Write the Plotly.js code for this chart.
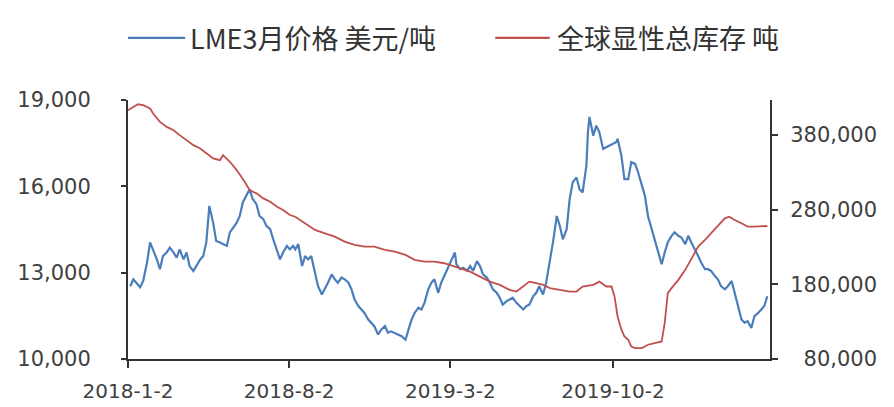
<!DOCTYPE html>
<html>
<head>
<meta charset="utf-8">
<script src="https://cdn.plot.ly/plotly-3.0.1.min.js"></script>
<style>
  html, body { margin: 0; padding: 0; background: #ffffff; }
  #chart { width: 894px; height: 407px; }
</style>
</head>
<body>
<div id="chart"></div>
<script>
// ---- Data ----
const seriesNames = ["LME3月价格 美元/吨", "全球显性总库存 吨"];

const priceDates = [
  "2018-01-05","2018-01-09","2018-01-13","2018-01-18","2018-01-22","2018-01-27","2018-01-31","2018-02-04","2018-02-09","2018-02-13",
  "2018-02-17","2018-02-22","2018-02-26","2018-03-03","2018-03-07","2018-03-11","2018-03-16","2018-03-20","2018-03-24","2018-03-29",
  "2018-04-02","2018-04-07","2018-04-11","2018-04-15","2018-04-19","2018-04-24","2018-04-28","2018-05-03","2018-05-12","2018-05-16",
  "2018-05-25","2018-05-29","2018-06-02","2018-06-07","2018-06-11","2018-06-15","2018-06-20","2018-06-24","2018-06-29","2018-07-03",
  "2018-07-08","2018-07-12","2018-07-17","2018-07-21","2018-07-25","2018-07-30","2018-08-03","2018-08-07","2018-08-10","2018-08-14",
  "2018-08-19","2018-08-23","2018-08-27","2018-08-31","2018-09-05","2018-09-09","2018-09-14","2018-09-18","2018-09-22","2018-09-27",
  "2018-10-01","2018-10-05","2018-10-10","2018-10-14","2018-10-19","2018-10-23","2018-10-27","2018-11-01","2018-11-05","2018-11-09",
  "2018-11-14","2018-11-18","2018-11-22","2018-11-27","2018-12-01","2018-12-06","2018-12-10","2018-12-14","2018-12-19","2018-12-23",
  "2018-12-28","2019-01-02","2019-01-06","2019-01-10","2019-01-14","2019-01-19","2019-01-23","2019-01-27","2019-02-01","2019-02-05",
  "2019-02-09","2019-02-14","2019-02-18","2019-02-22","2019-02-27","2019-03-04","2019-03-08","2019-03-10","2019-03-15","2019-03-19",
  "2019-03-24","2019-03-28","2019-04-01","2019-04-06","2019-04-10","2019-04-14","2019-04-19","2019-04-23","2019-04-27","2019-05-02",
  "2019-05-06","2019-05-10","2019-05-15","2019-05-19","2019-05-23","2019-05-28","2019-06-01","2019-06-06","2019-06-10","2019-06-14",
  "2019-06-19","2019-06-23","2019-06-27","2019-07-02","2019-07-06","2019-07-11","2019-07-15","2019-07-20","2019-07-24","2019-07-28",
  "2019-08-02","2019-08-06","2019-08-10","2019-08-15","2019-08-19","2019-08-23","2019-08-28","2019-08-30","2019-09-01","2019-09-06",
  "2019-09-10","2019-09-14","2019-09-19","2019-09-23","2019-09-27","2019-10-02","2019-10-06","2019-10-08","2019-10-13","2019-10-17",
  "2019-10-22","2019-10-26","2019-10-31","2019-11-04","2019-11-09","2019-11-13","2019-11-17","2019-11-22","2019-11-26","2019-11-30",
  "2019-12-05","2019-12-09","2019-12-13","2019-12-18","2019-12-22","2019-12-27","2019-12-31","2020-01-05","2020-01-09","2020-01-13",
  "2020-01-18","2020-01-22","2020-01-26","2020-01-31","2020-02-04","2020-02-08","2020-02-13","2020-02-17","2020-02-21","2020-02-26",
  "2020-03-01","2020-03-06","2020-03-10","2020-03-14","2020-03-19","2020-03-23","2020-03-27","2020-04-01","2020-04-05","2020-04-10",
  "2020-04-14","2020-04-18","2020-04-22"
];
const priceValues = [
  12530,12770,12650,12490,12710,13350,14050,13810,13460,13120,
  13580,13710,13870,13700,13520,13810,13460,13700,13230,13060,
  13230,13460,13580,14050,15320,14740,14100,14050,13930,14400,
  14740,14970,15440,15670,15900,15560,15380,14970,14860,14630,
  14510,14160,13810,13460,13700,13930,13810,13930,13810,13990,
  13230,13580,13460,13580,13000,12530,12240,12420,12650,12940,
  12770,12650,12830,12770,12650,12420,12070,11840,11720,11600,
  11370,11260,11140,10850,11020,11140,10910,10960,10910,10850,
  10790,10670,11020,11370,11600,11780,11720,11950,12420,12650,
  12770,12300,12650,12880,13120,13460,13700,13290,13120,13170,
  13060,13230,13060,13400,13230,12940,12830,12650,12420,12300,
  12130,11890,12010,12070,12130,11950,11840,11720,11840,11890,
  12180,12300,12530,12240,12650,13350,14050,14970,14630,14160,
  14510,15560,16140,16310,15900,15790,16720,17880,18410,17760,
  18110,17880,17300,17360,17420,17480,17530,17650,17070,16250,
  16250,16840,16780,16490,16020,15670,14970,14510,14160,13700,
  13290,13700,14050,14280,14400,14280,14220,13990,14280,14050,
  13810,13580,13350,13120,13120,13060,12880,12770,12530,12420,
  12530,12710,12300,11840,11370,11260,11310,11080,11490,11600,
  11720,11840,12180
];

const stockDates = [
  "2018-01-02","2018-01-09","2018-01-15","2018-01-22","2018-01-31","2018-02-04","2018-02-13","2018-02-22","2018-03-03","2018-03-11",
  "2018-03-20","2018-03-29","2018-04-07","2018-04-15","2018-04-24","2018-05-03","2018-05-07","2018-05-16","2018-05-25","2018-06-03",
  "2018-06-11","2018-06-20","2018-06-29","2018-07-08","2018-07-17","2018-07-25","2018-08-03","2018-08-10","2018-08-23","2018-09-05",
  "2018-09-18","2018-10-01","2018-10-14","2018-10-27","2018-11-09","2018-11-22","2018-12-06","2018-12-19","2019-01-02","2019-01-14",
  "2019-01-27","2019-02-09","2019-02-22","2019-03-08","2019-03-15","2019-03-28","2019-04-10","2019-04-23","2019-05-06","2019-05-19",
  "2019-05-28","2019-06-06","2019-06-14","2019-06-23","2019-07-02","2019-07-11","2019-07-24","2019-08-06","2019-08-15","2019-08-23",
  "2019-09-06","2019-09-14","2019-09-23","2019-09-30","2019-10-04","2019-10-08","2019-10-13","2019-10-17","2019-10-22","2019-10-26",
  "2019-10-31","2019-11-09","2019-11-17","2019-11-26","2019-12-05","2019-12-09","2019-12-13","2019-12-18","2019-12-27","2020-01-05",
  "2020-01-13","2020-01-22","2020-01-31","2020-02-08","2020-02-17","2020-02-26","2020-03-03","2020-03-10","2020-03-19","2020-03-27",
  "2020-04-05","2020-04-14","2020-04-22"
];
const stockValues = [
  413300,417700,421300,420000,415600,408900,397600,391000,386500,379900,
  373200,366500,362100,355400,348700,346400,353100,344200,333100,319700,
  306300,301900,295200,290700,284000,279600,272900,270600,261800,252900,
  248400,243900,237200,232800,230500,230500,226100,223800,219400,212800,
  210500,210500,208300,203800,201700,197100,190400,183700,179300,172600,
  170400,177100,183700,181600,179300,174900,172600,170400,170400,177100,
  179300,183700,177100,177100,163700,137000,119200,110200,105800,96800,
  94700,94700,99100,101400,103500,128100,168200,174900,186000,199400,
  215000,230500,239500,248400,257300,268500,270600,266200,261800,257300,
  257300,257300,258200
];

const xTickVals = ["2018-01-02", "2018-08-02", "2019-03-02", "2019-10-02"];
const xTickText = ["2018-1-2", "2018-8-2", "2019-3-2", "2019-10-2"];
const leftTickVals = [10000, 13000, 16000, 19000];
const rightTickVals = [80000, 180000, 280000, 380000];
const rightTickText = ["\u200780,000", "180,000", "280,000", "380,000"];

const seriesColors = ["#4A7EBB", "#C0504D"];

// ---- Chart ----
const axisColor = "#333333";
const tickFont = { family: "DejaVu Sans", size: 21, color: "#404040" };
const xTickFont = { family: "DejaVu Sans", size: 20, color: "#404040" };
const legendFont = { family: "Noto Sans CJK SC", size: 27, color: "#333333" };

const traces = [
  {
    x: priceDates, y: priceValues, name: seriesNames[0], type: "scatter", mode: "lines",
    line: { color: seriesColors[0], width: 2.2 }, yaxis: "y"
  },
  {
    x: stockDates, y: stockValues, name: seriesNames[1], type: "scatter", mode: "lines",
    line: { color: seriesColors[1], width: 1.8 }, yaxis: "y2"
  }
];

const legendY = 1.24;
const layout = {
  width: 894, height: 407,
  margin: { l: 128, r: 124, t: 100, b: 48, pad: 0 },
  paper_bgcolor: "#ffffff", plot_bgcolor: "#ffffff",
  showlegend: false,
  xaxis: {
    type: "date",
    range: ["2018-01-02", "2020-04-25 12:00"],
    tickmode: "array", tickvals: xTickVals, ticktext: xTickText,
    ticks: "outside", ticklen: 7, tickwidth: 2, tickcolor: axisColor,
    showline: true, linecolor: axisColor, linewidth: 2,
    showgrid: false, zeroline: false,
    tickfont: xTickFont, ticklabelstandoff: 6
  },
  yaxis: {
    range: [10000, 19000],
    tickmode: "array", tickvals: leftTickVals, tickformat: ",d",
    ticks: "outside", ticklen: 5, tickwidth: 2, tickcolor: axisColor,
    showline: true, linecolor: axisColor, linewidth: 2,
    showgrid: false, zeroline: false,
    tickfont: tickFont, ticklabelstandoff: 26
  },
  yaxis2: {
    overlaying: "y", side: "right",
    range: [80000, 427000],
    tickmode: "array", tickvals: rightTickVals, ticktext: rightTickText,
    ticks: "outside", ticklen: 6, tickwidth: 2, tickcolor: axisColor,
    showline: true, linecolor: axisColor, linewidth: 2,
    showgrid: false, zeroline: false,
    tickfont: tickFont, ticklabelstandoff: 8
  },
  shapes: [
    { type: "line", xref: "paper", yref: "paper", x0: 0.0, x1: 0.089, y0: legendY, y1: legendY,
      line: { color: seriesColors[0], width: 2.2 } },
    { type: "line", xref: "paper", yref: "paper", x0: 0.572, x1: 0.657, y0: legendY, y1: legendY,
      line: { color: seriesColors[1], width: 2.2 } }
  ],
  annotations: [
    { xref: "paper", yref: "paper", x: 0.093, y: legendY, xanchor: "left", yanchor: "middle",
      text: seriesNames[0], showarrow: false, font: legendFont },
    { xref: "paper", yref: "paper", x: 0.665, y: legendY, xanchor: "left", yanchor: "middle",
      text: seriesNames[1], showarrow: false, font: legendFont }
  ]
};

Plotly.newPlot("chart", traces, layout, { displayModeBar: false, staticPlot: true });
</script>
</body>
</html>
